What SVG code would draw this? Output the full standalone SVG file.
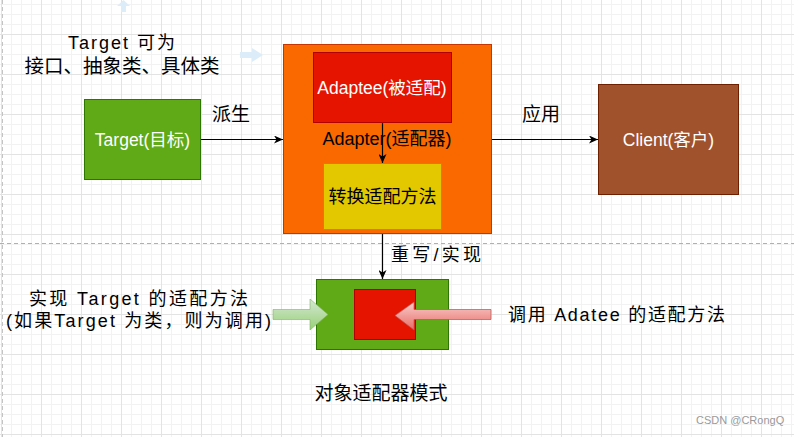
<svg xmlns="http://www.w3.org/2000/svg" width="794" height="437" viewBox="0 0 794 437">
<defs>
<pattern id="minor" width="10" height="10" patternUnits="userSpaceOnUse" x="1" y="4">
<path d="M0.5,0 V10 M0,0.5 H10" stroke="#f2f2f2" stroke-width="1" fill="none"/>
</pattern>
<pattern id="major" width="40" height="40" patternUnits="userSpaceOnUse" x="1" y="34">
<path d="M0.5,0 V40 M0,0.5 H40" stroke="#e3e3e3" stroke-width="1" fill="none"/>
</pattern>
<marker id="arr" markerWidth="10" markerHeight="8" refX="9" refY="4" orient="auto" markerUnits="userSpaceOnUse">
<path d="M0,0 L9,4 L0,8 L2.5,4 Z" fill="#000"/>
</marker>
<linearGradient id="gGreen" x1="0" y1="0" x2="0" y2="1">
<stop offset="0" stop-color="#d5e8d4"/><stop offset="1" stop-color="#97d077"/>
</linearGradient>
<linearGradient id="gRed" x1="0" y1="0" x2="0" y2="1">
<stop offset="0" stop-color="#f8cecc"/><stop offset="1" stop-color="#ea6b66"/>
</linearGradient>
</defs>
<style>
.lbl{font-family:"Liberation Sans","Noto Sans CJK SC",sans-serif;text-anchor:middle;dominant-baseline:central}
.w{fill:#ffffff}
.k{fill:#000000}
.hand{font-family:"Liberation Sans","Noto Sans CJK SC",sans-serif;dominant-baseline:central;fill:#000}
.edge{stroke:#000;stroke-width:1.2;fill:none;marker-end:url(#arr)}
</style>
<rect width="794" height="437" fill="#ffffff"/>
<rect width="794" height="437" fill="url(#minor)"/>
<rect width="794" height="437" fill="url(#major)"/>
<line x1="2.5" y1="0" x2="2.5" y2="437" stroke="#c4c4c4" stroke-dasharray="4 3"/>
<line x1="0" y1="243.5" x2="794" y2="243.5" stroke="#b0b0b0" stroke-dasharray="4 3"/>

<g id="hover-artifacts" fill="#dcedf9">
<path d="M117,6 L123.5,0 L130,6 L126,6 L126,12 L121,12 L121,6 Z"/>
<path d="M240,52 L252,52 L252,48 L263,55 L252,62 L252,58 L240,58 Z"/>
</g>

<g id="note-top">
<text class="hand" x="68" y="43" font-size="18" textLength="107" lengthAdjust="spacing">Target 可为</text>
<text class="lbl k" x="122" y="66" font-size="19.5">接口、抽象类、具体类</text>
</g>

<g id="target">
<rect x="84.5" y="99.5" width="116" height="80" fill="#60a917" stroke="#2d7600"/>
<text class="lbl w" x="142.5" y="139.5" font-size="17.5">Target(目标)</text>
</g>

<g id="adapter">
<rect x="283.5" y="44.5" width="208" height="189" fill="#fa6800" stroke="#c73500"/>
<text class="lbl k" x="387" y="139" font-size="18">Adapter(适配器)</text>
</g>

<g id="adaptee">
<rect x="313.5" y="52.5" width="138" height="70" fill="#e51400" stroke="#b20000"/>
<text class="lbl w" x="382" y="87.5" font-size="17.5">Adaptee(被适配)</text>
</g>

<g id="convert">
<rect x="323.5" y="163.5" width="118" height="66" fill="#e3c800" stroke="#b09500"/>
<text class="lbl k" x="382.5" y="197" font-size="18">转换适配方法</text>
</g>

<g id="client">
<rect x="598.5" y="84.5" width="140" height="110" fill="#a0522d" stroke="#6d1f00"/>
<text class="lbl w" x="668.5" y="139.5" font-size="17.5">Client(客户)</text>
</g>

<g id="object-adapter">
<rect x="316.5" y="279.5" width="132" height="70" fill="#60a917" stroke="#2d7600"/>
<rect x="354.5" y="289.5" width="61" height="50" fill="#e51400" stroke="#b20000"/>
</g>

<g id="connectors">
<line class="edge" x1="201" y1="139.5" x2="283" y2="139.5"/>
<line class="edge" x1="382.5" y1="123" x2="382.5" y2="163"/>
<line class="edge" x1="492" y1="139.5" x2="598" y2="139.5"/>
<line class="edge" x1="382.5" y1="234" x2="382.5" y2="279"/>
<path d="M273,309.5 L310,309.5 L310,299 L328,314.5 L310,330 L310,319.5 L273,319.5 Z" fill="url(#gGreen)" stroke="#82b366" stroke-opacity="0.6"/>
<path d="M491,309.5 L414,309.5 L414,302 L395,315.5 L414,330 L414,319.5 L491,319.5 Z" fill="url(#gRed)" stroke="#b85450" stroke-opacity="0.7"/>
</g>

<g id="edge-labels">
<text class="lbl k" x="231" y="114" font-size="19">派生</text>
<text class="lbl k" x="541" y="114" font-size="19">应用</text>
<text class="hand" x="391" y="255" font-size="18" textLength="90" lengthAdjust="spacing">重写/实现</text>
</g>

<g id="notes">
<text class="hand" x="29" y="299" font-size="18" textLength="219" lengthAdjust="spacing">实现 Target 的适配方法</text>
<text class="hand" x="6" y="321" font-size="18" textLength="265" lengthAdjust="spacing">(如果Target 为类，则为调用)</text>
<text class="hand" x="508" y="315" font-size="18" textLength="217" lengthAdjust="spacing">调用 Adatee 的适配方法</text>
<text class="lbl k" x="381" y="393" font-size="19">对象适配器模式</text>
<text x="696" y="420" font-family="Liberation Sans, sans-serif" font-size="11" fill="#9a9a9a" dominant-baseline="central">CSDN @CRongQ</text>
</g>
</svg>
